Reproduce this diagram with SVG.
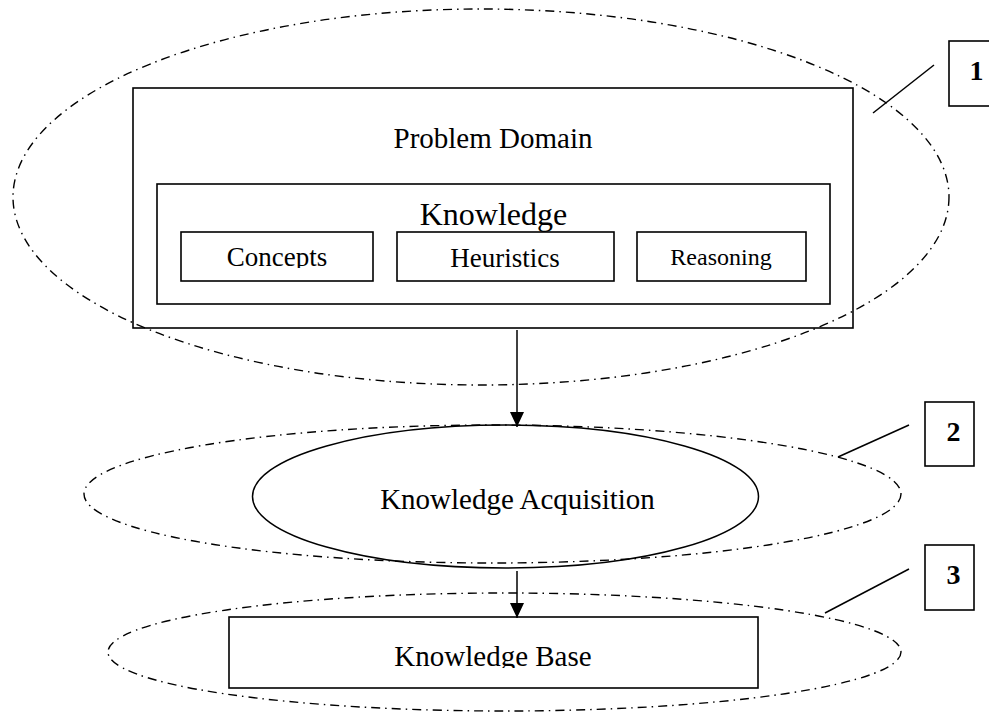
<svg xmlns="http://www.w3.org/2000/svg" width="989" height="713" viewBox="0 0 989 713">
<style>
  .box { fill: none; stroke: #000; stroke-width: 1.6; }
  .solid { fill: none; stroke: #000; stroke-width: 1.5; }
  .dash { fill: none; stroke: #000; stroke-width: 1.4; stroke-dasharray: 9 5 1.5 5; }
  .lead { stroke: #000; stroke-width: 1.5; }
  .t { font-family: "Liberation Serif", "Times New Roman", serif; fill: #000; text-anchor: middle; }
  .num { font-family: "Liberation Serif", "Times New Roman", serif; font-weight: bold; font-size: 28px; fill: #000; text-anchor: middle; }
  .conn { stroke: #000; stroke-width: 1.5; fill: none; }
</style>
<defs>
  <marker id="arrow" viewBox="0 0 15 14" refX="15" refY="7" markerWidth="15" markerHeight="14" markerUnits="userSpaceOnUse" orient="auto">
    <path d="M0,0 L15,7 L0,14 Z" fill="#000"/>
  </marker>
  <clipPath id="clipConcepts"><rect x="181" y="232" width="192" height="36"/></clipPath>
  <clipPath id="clipKB"><rect x="229" y="617" width="529" height="51"/></clipPath>
</defs>
<rect x="0" y="0" width="989" height="713" fill="#fff"/>

<g id="region1">
  <ellipse class="dash" cx="481" cy="197" rx="468" ry="188"/>
</g>
<g id="region2">
  <ellipse class="dash" cx="492.5" cy="494" rx="408.5" ry="69"/>
</g>
<g id="region3">
  <ellipse class="dash" cx="504.5" cy="652" rx="396.5" ry="59"/>
</g>

<g id="problem-domain">
  <rect class="box" x="133" y="88" width="720" height="240"/>
  <text class="t" x="493" y="148" font-size="29">Problem Domain</text>
</g>
<g id="knowledge">
  <rect class="box" x="157" y="184" width="673" height="120"/>
  <text class="t" x="493.5" y="225" font-size="32">Knowledge</text>
</g>
<g id="concepts">
  <rect class="box" x="181" y="232" width="192" height="49"/>
  <text class="t" x="277" y="266" font-size="27" clip-path="url(#clipConcepts)">Concepts</text>
</g>
<g id="heuristics">
  <rect class="box" x="397" y="232" width="217" height="49"/>
  <text class="t" x="505" y="267" font-size="27">Heuristics</text>
</g>
<g id="reasoning">
  <rect class="box" x="637" y="232" width="169" height="49"/>
  <text class="t" x="721" y="265" font-size="24">Reasoning</text>
</g>
<g id="knowledge-acquisition">
  <ellipse class="solid" cx="505.5" cy="496.5" rx="253" ry="71.5"/>
  <text class="t" x="517.5" y="509" font-size="29">Knowledge Acquisition</text>
</g>
<g id="knowledge-base">
  <rect class="box" x="229" y="617" width="529" height="71"/>
  <text class="t" x="493" y="666" font-size="29" clip-path="url(#clipKB)">Knowledge Base</text>
</g>

<g id="label1">
  <rect class="box" x="949" y="41" width="46" height="65"/>
  <text class="num" x="976.5" y="80">1</text>
</g>
<g id="label2">
  <rect class="box" x="925" y="402" width="49" height="64"/>
  <text class="num" x="953.5" y="441">2</text>
</g>
<g id="label3">
  <rect class="box" x="925" y="545" width="49" height="65"/>
  <text class="num" x="953.5" y="584">3</text>
</g>

<g id="connectors">
  <line class="conn" x1="517" y1="330" x2="517" y2="427" marker-end="url(#arrow)"/>
  <line class="conn" x1="517" y1="571" x2="517" y2="618" marker-end="url(#arrow)"/>
  <line class="lead" x1="873" y1="113" x2="934" y2="65"/>
  <line class="lead" x1="838" y1="457" x2="909" y2="425"/>
  <line class="lead" x1="825" y1="613" x2="909" y2="569"/>
</g>
</svg>
